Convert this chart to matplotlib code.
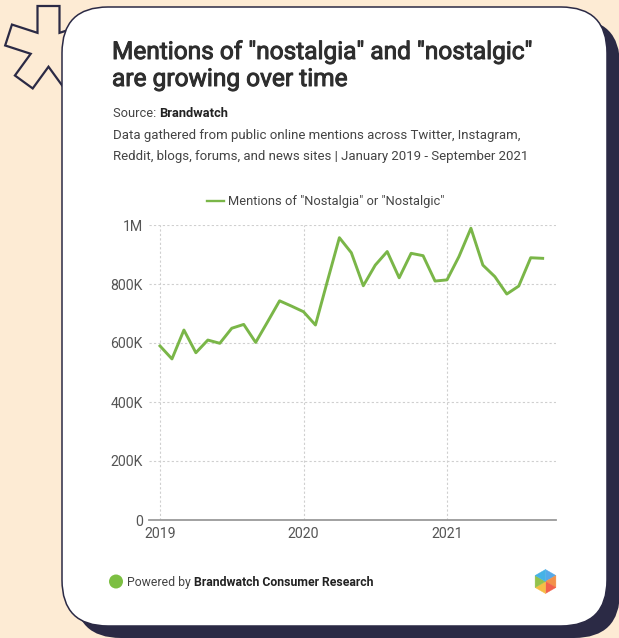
import numpy as np
import matplotlib
matplotlib.use("Agg")
import matplotlib.pyplot as plt
import matplotlib.patheffects as pe
from matplotlib.patches import FancyBboxPatch, Polygon, Circle
from matplotlib.lines import Line2D

# Monthly mentions, January 2019 - September 2021
month_index = list(range(33))
mentions = [590000, 546000, 644000, 567000, 610000, 599000, 650000, 663000,
            602000, 672000, 743000, 725000,
            706000, 661000, 810000, 957000, 906000, 794000, 864000, 910000,
            821000, 904000, 896000, 810000,
            814000, 893000, 989000, 864000, 825000, 766000, 793000, 889000,
            887000]
year_ticks = [0, 12, 24]
year_labels = ["2019", "2020", "2021"]
value_ticks = [0, 200000, 400000, 600000, 800000, 1000000]
value_labels = ["0", "200K", "400K", "600K", "800K", "1M"]
series_name = 'Mentions of "Nostalgia" or "Nostalgic"'

W, H = 619, 638
CREAM = "#FDEBD4"
NAVY = "#2B2A45"
GREEN = "#7AB648"
FONT = ["Roboto", "DejaVu Sans"]

plt.rcParams["font.family"] = FONT

fig = plt.figure(figsize=(W / 100, H / 100), dpi=100)
fig.patch.set_facecolor(CREAM)

# Background layer in pixel coordinates (y grows downward)
bg = fig.add_axes([0, 0, 1, 1])
bg.set_xlim(0, W)
bg.set_ylim(H, 0)
bg.axis("off")

# Decorative five-armed asterisk
cx, cy, L, w = 48.5, 48.0, 42.0, 11.0
angles = np.deg2rad([0, 72, 144, 216, 288])
verts = []
for i, a in enumerate(angles):
    u = np.array([np.sin(a), -np.cos(a)])
    n = np.array([np.cos(a), np.sin(a)])
    tip = np.array([cx, cy]) + L * u
    verts.append(tip - w * n)
    verts.append(tip + w * n)
    b = a + np.deg2rad(36)
    bis = np.array([np.sin(b), -np.cos(b)])
    verts.append(np.array([cx, cy]) + (w / np.sin(np.deg2rad(36))) * bis)
bg.add_patch(Polygon(verts, closed=True, facecolor=CREAM, edgecolor=NAVY,
                     lw=1.6, joinstyle="miter", zorder=1))

# Card shadow and card
card_x, card_y, card_w, card_h = 62, 7, 545, 619
bg.add_patch(FancyBboxPatch((card_x + 13, card_y + 12), card_w, card_h,
                            boxstyle="round,pad=0,rounding_size=46",
                            facecolor=NAVY, edgecolor="none", zorder=2))
bg.add_patch(FancyBboxPatch((card_x, card_y), card_w, card_h,
                            boxstyle="round,pad=0,rounding_size=46",
                            facecolor="white", edgecolor=NAVY, lw=1.1, zorder=3))

# Header text (regular weight thickened slightly to a medium look)
TITLE_COLOR = "#2E2E2E"
title_fx = [pe.withStroke(linewidth=0.7, foreground=TITLE_COLOR)]
bg.text(112, 59, 'Mentions of "nostalgia" and "nostalgic"', fontsize=17.6,
        color=TITLE_COLOR, va="baseline", zorder=4, path_effects=title_fx)
bg.text(112, 86, "are growing over time", fontsize=17.6,
        color=TITLE_COLOR, va="baseline", zorder=4, path_effects=title_fx)
src = bg.text(113, 117, "Source: ", fontsize=9.3, color="#444444",
              va="baseline", zorder=4)
bg.annotate("Brandwatch", xy=(1, 0), xycoords=src, fontsize=9.3,
            fontweight="bold", color="#222222", va="bottom", ha="left", zorder=4)
bg.text(113, 139, "Data gathered from public online mentions across Twitter, Instagram,",
        fontsize=9.55, color="#444444", va="baseline", zorder=4)
bg.text(113, 160, "Reddit, blogs, forums, and news sites | January 2019 - September 2021",
        fontsize=9.55, color="#444444", va="baseline", zorder=4)

# Footer
bg.add_patch(Circle((116, 581.5), 7, facecolor="#7CBF42", edgecolor="none", zorder=4))
pw = bg.text(127, 586, "Powered by ", fontsize=8.8, color="#444444",
             va="baseline", zorder=4)
bg.annotate("Brandwatch Consumer Research", xy=(1, 0), xycoords=pw, fontsize=8.8,
            fontweight="bold", color="#222222", va="bottom", ha="left", zorder=4)

# Hexagon logo
hx, hy, hr = 545.5, 581.5, 12
hex_colors = ["#56A9E8", "#F3914A", "#F1604C", "#F6BE45", "#93C24C", "#45B2E6"]
corner = lambda k: (hx + hr * np.cos(np.deg2rad(-90 + 60 * k)),
                    hy + hr * np.sin(np.deg2rad(-90 + 60 * k)))
for k, col in enumerate(hex_colors):
    bg.add_patch(Polygon([(hx, hy), corner(k), corner(k + 1)], closed=True,
                         facecolor=col, edgecolor=col, lw=0.3, zorder=4))

# Chart axes
x_left, x_right = 149, 556
y_top, y_bottom = 225, 520
px_per_month = (447 - 160) / 24.0
ax = fig.add_axes([x_left / W, (H - y_bottom) / H,
                   (x_right - x_left) / W, (y_bottom - y_top) / H])
ax.set_facecolor("none")
ax.set_zorder(5)
ax.set_xlim((x_left - 160) / px_per_month, (x_right - 160) / px_per_month)
ax.set_ylim(0, 1000000)

ax.plot(month_index, mentions, color=GREEN, lw=2.1, solid_joinstyle="round",
        clip_on=False, zorder=3)

ax.set_xticks(year_ticks)
ax.set_xticklabels(year_labels)
ax.set_yticks(value_ticks)
ax.set_yticklabels(value_labels)
ax.tick_params(axis="both", length=0, labelsize=10.2, labelcolor="#555555")
ax.tick_params(axis="y", pad=4.5)
ax.tick_params(axis="x", pad=5)

for s in ["top", "right", "left"]:
    ax.spines[s].set_visible(False)
ax.spines["bottom"].set_color("#9A9A9A")
ax.spines["bottom"].set_linewidth(1.3)
ax.spines["bottom"].set_zorder(4)

ax.grid(True, color="#CFCFCF", lw=0.8, linestyle=(0, (2, 2)))
ax.set_axisbelow(True)

legend_handle = Line2D([], [], color=GREEN, lw=1.7)
ax.legend([legend_handle], [series_name], loc="center left",
          bbox_to_anchor=(207 / W, 1 - 202 / H), bbox_transform=fig.transFigure,
          frameon=False, fontsize=9.3, labelcolor="#444444",
          handlelength=1.3, handletextpad=0.35, borderpad=0,
          borderaxespad=0)

fig.savefig("out.png", dpi=100, facecolor=CREAM)
